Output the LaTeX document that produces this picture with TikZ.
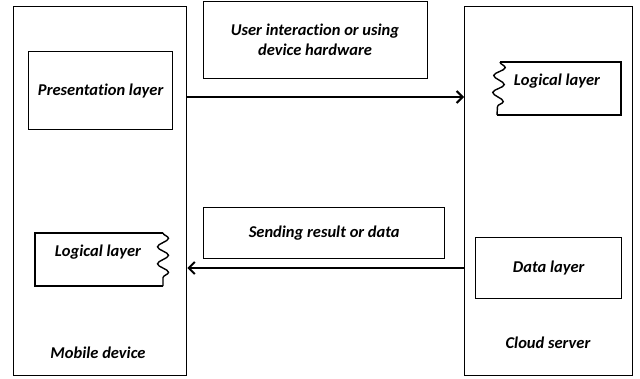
\documentclass[tikz,border=0pt]{standalone}
\usepackage{fontspec}
\setmainfont{Carlito}[Ligatures=NoCommon]
\usetikzlibrary{arrows.meta,decorations.pathmorphing}
\begin{document}
\begin{tikzpicture}[x=1pt,y=-1pt,
  box/.style={draw,line width=1.4pt,inner sep=0pt,anchor=north west},
  lbl/.style={font=\fontsize{16.5}{20}\selectfont\bfseries\itshape,align=center},
  flow/.style={line width=2.6pt,-{Straight Barb[length=6pt,width=12pt,line width=2pt]}},
  wave/.style={line width=1.4pt,decorate,decoration={snake,amplitude=5.5pt,segment length=17pt}}]
\useasboundingbox (0,0) rectangle (640,378);
% containers
\node[box,minimum width=173pt,minimum height=369pt] (mob) at (13,6) {};
\node[box,minimum width=168pt,minimum height=369pt] (cloud) at (464,6) {};
\node[lbl] (mobt) at (98,353) {Mobile device};
\node[lbl] (cloudt) at (548,343) {Cloud server};
% presentation
\node[box,minimum width=144pt,minimum height=78pt] (pres) at (28,51) {};
\node[lbl] (prest) at (pres.center) {Presentation layer};
% user interaction
\node[box,minimum width=224pt,minimum height=77pt] (user) at (203,1) {};
\node[lbl] (usert) at (315,40) {User interaction or using\\device hardware};
% sending
\node[box,minimum width=241pt,minimum height=51pt] (send) at (203,207) {};
\node[lbl] (sendt) at (send.center) {Sending result or data};
% data layer
\node[box,minimum width=146pt,minimum height=61pt] (data) at (475,237) {};
\node[lbl] (datat) at (data.center) {Data layer};
% logical layer right (wavy left edge)
\coordinate (rl1) at (500,62);
\coordinate (rl2) at (497,115);
\draw[line width=1.4pt] (rl1) -- (621,62) -- (621,115) -- (rl2);
\draw[wave] (rl1) -- (rl2);
\node[lbl] (rlt) at (557,81) {Logical layer};
% logical layer left (wavy right edge)
\coordinate (ll1) at (163,233);
\coordinate (ll2) at (163,286);
\draw[line width=1.4pt] (ll1) -- (35,233) -- (35,286) -- (ll2);
\draw[wave] (ll1) -- (ll2);
\node[lbl] (llt) at (98,252) {Logical layer};
% arrows
\coordinate (a1s) at (186,97);
\coordinate (a2s) at (464,268);
\draw[flow] (a1s) -- (cloud.west |- a1s);
\draw[flow] (a2s) -- (mob.east |- a2s);
\end{tikzpicture}
\end{document}
